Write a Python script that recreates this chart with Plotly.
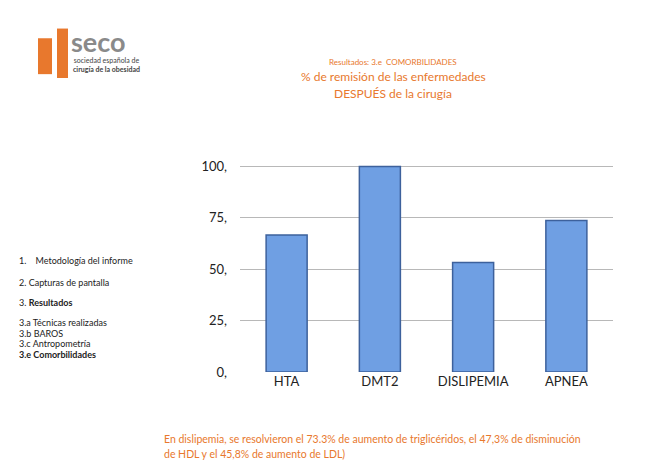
import plotly.graph_objects as go

categories = ["HTA", "DMT2", "DISLIPEMIA", "APNEA"]
values = [66.7, 100, 53.3, 73.7]
tick_vals = [0, 25, 50, 75, 100]
tick_text = ["0,", "25,", "50,", "75,", "100,"]
menu_items = ["1.    Metodología del informe", "2. Capturas de pantalla", "3. <b>Resultados</b>",
              "3.a Técnicas realizadas", "3.b BAROS", "3.c Antropometría", "<b>3.e Comorbilidades</b>"]
menu_y = [254, 277, 297, 318, 329, 340, 351]

W, H = 669, 469
orange = "#e8782d"

fig = go.Figure(go.Bar(x=categories, y=values, width=0.44,
                       marker=dict(color="#6f9fe3", line=dict(color="#3d619c", width=1.5))))

fig.update_layout(
    width=W, height=H, margin=dict(l=0, r=0, t=0, b=0),
    paper_bgcolor="white", plot_bgcolor="white", showlegend=False,
    font=dict(family="Lato, Open Sans, sans-serif", color="#222"),
    xaxis=dict(domain=[232 / W, 605 / W], showline=False, ticks="", tickfont=dict(size=13)),
    yaxis=dict(domain=[1 - 369 / H, 1 - 155 / H], range=[0, 101], tickvals=tick_vals, ticktext=tick_text,
               showgrid=True, gridcolor="#b8b8b8", gridwidth=1, zeroline=False, tickfont=dict(size=13),
               ticklabelstandoff=12),
)

def txt(x, y, s, size, color="#222", anchor="left"):
    fig.add_annotation(x=x / W, y=1 - y / H, xref="paper", yref="paper", text=s, showarrow=False,
                       xanchor=anchor, yanchor="middle", font=dict(size=size, color=color), borderpad=0)

txt(385, 49, "Resultados: 3.e  COMORBILIDADES", 8, orange, "center")
txt(385, 64, "% de remisión de las enfermedades", 12, orange, "center")
txt(385, 82, "DESPUÉS de la cirugía", 12, orange, "center")

for s, y in zip(menu_items, menu_y):
    txt(10, y, s, 9)

txt(155, 438, "En dislipemia, se resolvieron el 73.3% de aumento de triglicéridos, el 47,3% de disminución", 10.5, orange)
txt(155, 454, "de HDL y el 45,8% de aumento de LDL)", 10.5, orange)

# logo
fig.add_shape(type="rect", xref="paper", yref="paper", x0=30 / W, x1=44 / W, y0=1 - 62 / H, y1=1 - 25 / H,
              fillcolor=orange, line_width=0)
fig.add_shape(type="rect", xref="paper", yref="paper", x0=49 / W, x1=60 / W, y0=1 - 66 / H, y1=1 - 15 / H,
              fillcolor=orange, line_width=0)
txt(62, 28, "<b>seco</b>", 27, "#8a8a8a")
txt(64, 52, "sociedad española de<br><b>cirugía de la obesidad</b>", 7, "#444")

fig.write_html("out.html")
